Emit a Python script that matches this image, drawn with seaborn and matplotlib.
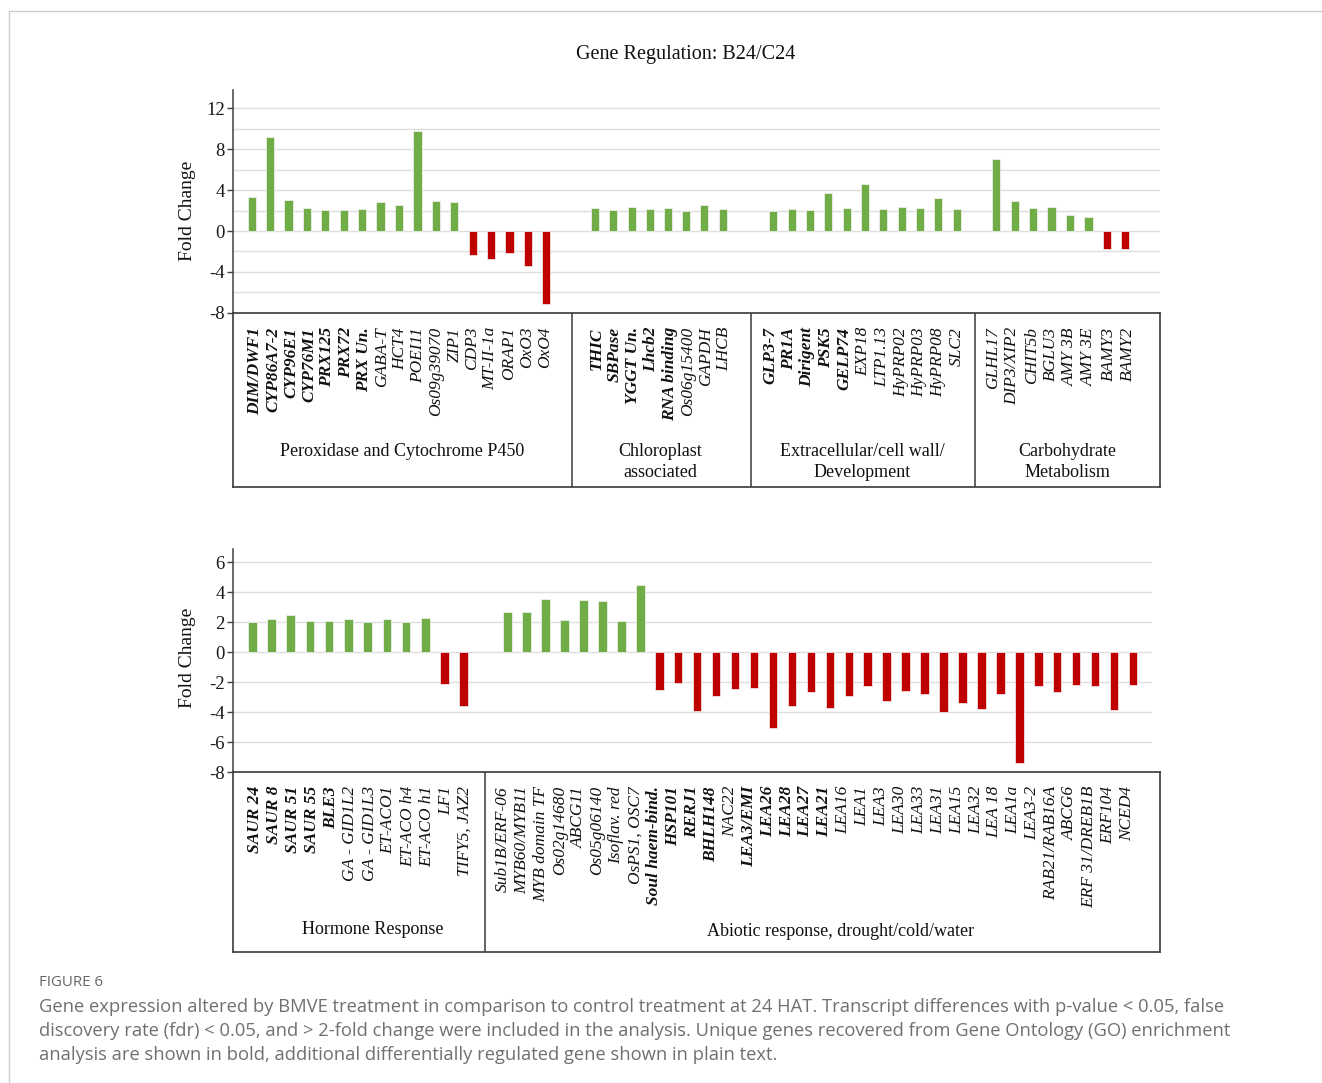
import numpy as np
import pandas as pd
import matplotlib
matplotlib.use("Agg")
import matplotlib.pyplot as plt
from matplotlib.lines import Line2D
import seaborn as sns

# ---------------- data ----------------
perox_genes = ["DIM/DWF1", "CYP86A7-2", "CYP96E1", "CYP76M1", "PRX125", "PRX72", "PRX Un.",
               "GABA-T", "HCT4", "POEI11", "Os09g39070", "ZIP1", "CDP3", "MT-II-1a", "ORAP1",
               "OxO3", "OxO4"]
perox_fc = [3.3, 9.2, 3.0, 2.25, 2.05, 2.1, 2.2, 2.8, 2.5, 9.75, 2.9, 2.8,
            -2.3, -2.75, -2.1, -3.4, -7.15]
perox_bold = [True] * 7 + [False] * 10

chloro_genes = ["THIC", "SBPase", "YGGT Un.", "Lhcb2", "RNA binding", "Os06g15400", "GAPDH", "LHCB"]
chloro_fc = [2.3, 2.1, 2.4, 2.2, 2.3, 1.95, 2.5, 2.2]
chloro_bold = [True] * 5 + [False] * 3

wall_genes = ["GLP3-7", "PR1A", "Dirigent", "PSK5", "GELP74", "EXP18", "LTP1.13",
              "HyPRP02", "HyPRP03", "HyPRP08", "SLC2"]
wall_fc = [1.97, 2.13, 2.1, 3.74, 2.23, 4.62, 2.16, 2.39, 2.3, 3.21, 2.16]
wall_bold = [True] * 5 + [False] * 6

carb_genes = ["GLHL17", "DIP3/XIP2", "CHIT5b", "BGLU3", "AMY 3B", "AMY 3E", "BAMY3", "BAMY2"]
carb_fc = [7.05, 2.92, 2.3, 2.39, 1.54, 1.34, -1.77, -1.77]
carb_bold = [False] * 8

hormone_genes = ["SAUR 24", "SAUR 8", "SAUR 51", "SAUR 55", "BLE3", "GA - GID1L2", "GA - GID1L3",
                 "ET-ACO1", "ET-ACO h4", "ET-ACO h1", "LF1", "TIFY5, JAZ2"]
hormone_fc = [2.05, 2.25, 2.5, 2.1, 2.1, 2.2, 2.05, 2.2, 2.0, 2.3, -2.1, -3.55]
hormone_bold = [True] * 5 + [False] * 7

abiotic_genes = ["Sub1B/ERF-06", "MYB60/MYB11", "MYB domain TF", "Os02g14680", "ABCG11",
                 "Os05g06140", "Isoflav. red", "OsPS1, OSC7", "Soul haem-bind.", "HSP101",
                 "RERJ1", "BHLH148", "NAC22", "LEA3/EMI", "LEA26", "LEA28", "LEA27", "LEA21",
                 "LEA16", "LEA1", "LEA3", "LEA30", "LEA33", "LEA31", "LEA15", "LEA32",
                 "LEA 18", "LEA1a", "LEA3-2", "RAB21/RAB16A", "ABCG6", "ERF 31/DREB1B",
                 "ERF104", "NCED4"]
abiotic_fc = [2.7, 2.7, 3.55, 2.15, 3.5, 3.4, 2.1, 4.5,
              -2.5, -2.05, -3.9, -2.9, -2.45, -2.35, -5.05, -3.6, -2.65, -3.7, -2.9, -2.25,
              -3.25, -2.55, -2.8, -3.95, -3.35, -3.8, -2.8, -7.35, -2.25, -2.65, -2.2,
              -2.25, -3.85, -2.2]
abiotic_bold = ([False] * 8 + [True] * 4 + [False] + [True] * 5 + [False] * 16)

top_ticks = [-8, -4, 0, 4, 8, 12]
bottom_ticks = [-8, -6, -4, -2, 0, 2, 4, 6]

title_text = "Gene Regulation: B24/C24"
caption_head = "FIGURE 6"
caption_lines = [
    "Gene expression altered by BMVE treatment in comparison to control treatment at 24 HAT. Transcript differences with p-value < 0.05, false",
    "discovery rate (fdr) < 0.05, and > 2-fold change were included in the analysis. Unique genes recovered from Gene Ontology (GO) enrichment",
    "analysis are shown in bold, additional differentially regulated gene shown in plain text.",
]

GREEN = "#70AD47"
RED = "#C00000"

# ---------------- styling ----------------
sns.set_theme(style="white")
plt.rcParams["font.family"] = ["Liberation Serif", "DejaVu Serif"]
plt.rcParams["axes.unicode_minus"] = False

W, H = 1322, 1083
fig = plt.figure(figsize=(W / 100, H / 100), dpi=100)


def rect(x0, y0, x1, y1):
    """Pixel box (top-left origin) -> figure fraction rect."""
    return [x0 / W, 1 - y1 / H, (x1 - x0) / W, (y1 - y0) / H]


def bar_group(genes, fc, ax_px, bar_px, ylim, y_px):
    ax = fig.add_axes(rect(ax_px[0], y_px[0], ax_px[1], y_px[1]))
    df = pd.DataFrame({"gene": genes, "fc": fc})
    df["direction"] = np.where(df["fc"] > 0, "up", "down")
    sns.barplot(data=df, x="gene", y="fc", hue="direction",
                palette={"up": GREEN, "down": RED}, saturation=1, dodge=False,
                width=0.45, legend=False, ax=ax, edgecolor="#f4f4f4", linewidth=0.5)
    step = (bar_px[1] - bar_px[0]) / (len(genes) - 1)
    ax.set_xlim((ax_px[0] - bar_px[0]) / step, (ax_px[1] - bar_px[0]) / step)
    ax.set_ylim(*ylim)
    ax.axis("off")
    ax.patch.set_alpha(0)
    return ax


def background(x0, x1, y_px, ylim, ticks):
    ax = fig.add_axes(rect(x0, y_px[0], x1, y_px[1]))
    ax.set_xlim(0, 1)
    ax.set_ylim(*ylim)
    ax.set_xticks([])
    ax.set_yticks(ticks)
    ax.set_yticks(np.arange(ylim[0], ylim[1] + 0.01, 2), minor=True)
    ax.set_yticklabels([str(t) for t in ticks], fontsize=13.5, color="#1a1a1a")
    ax.tick_params(axis="y", which="major", length=4, width=1, color="#404040",
                   left=True, pad=2)
    ax.tick_params(axis="y", which="minor", length=0)
    ax.grid(axis="y", which="both", color="#dedede", linewidth=1.0)
    for s in ("top", "right", "bottom"):
        ax.spines[s].set_visible(False)
    ax.spines["left"].set_color("#404040")
    ax.spines["left"].set_linewidth(1.1)
    ax.patch.set_alpha(0)
    return ax


def label_box(x0, x1, y0, y1, dividers, groups, label_top, fs=12.5):
    ax = fig.add_axes(rect(x0, y0, x1, y1))
    ax.set_xlim(x0, x1)
    ax.set_ylim(y1, y0)
    ax.set_xticks([])
    ax.set_yticks([])
    ax.patch.set_alpha(0)
    for s in ax.spines.values():
        s.set_color("#3a3a3a")
        s.set_linewidth(1.2)
    for d in dividers:
        ax.axvline(d, color="#3a3a3a", linewidth=1.1)
    for genes, bold, (lx0, lx1), name, (nx, ny) in groups:
        xs = np.linspace(lx0, lx1, len(genes))
        for x, g, b in zip(xs, genes, bold):
            ax.text(x, label_top, g, rotation=90, ha="center", va="top",
                    fontsize=fs, style="italic",
                    fontweight="bold" if b else "normal", color="#111111")
        ax.text(nx, ny, name, ha="center", va="center", fontsize=13,
                linespacing=1.3, color="#111111")
    return ax


# ---------------- upper panel ----------------
top_y = (90, 312.8)
top_ylim = (-8, 13.8)
background(233, 1160, top_y, top_ylim, top_ticks)
bar_group(perox_genes, perox_fc, (233, 571), (251.7, 546.3), top_ylim, top_y)
bar_group(chloro_genes, chloro_fc, (571, 748), (595.2, 722.6), top_ylim, top_y)
bar_group(wall_genes, wall_fc, (748, 976.5), (773.3, 956.7), top_ylim, top_y)
bar_group(carb_genes, carb_fc, (976.5, 1160), (996.3, 1125.3), top_ylim, top_y)

label_box(233, 1160, 313, 487, [572, 751, 975], [
    (perox_genes, perox_bold, (255, 545), "Peroxidase and Cytochrome P450", (402, 452)),
    (chloro_genes, chloro_bold, (597, 724), "Chloroplast\nassociated", (660, 462)),
    (wall_genes, wall_bold, (770, 957), "Extracellular/cell wall/\nDevelopment", (862, 462)),
    (carb_genes, carb_bold, (993, 1128), "Carbohydrate\nMetabolism", (1067, 462)),
], label_top=327)

fig.text(686 / W, 1 - 55 / H, title_text, ha="center", va="center", fontsize=14.5,
         color="#111111")
fig.text(188 / W, 1 - 211 / H, "Fold Change", rotation=90, ha="center", va="center",
         fontsize=14, color="#111111")

# ---------------- lower panel ----------------
bot_y = (549.3, 772.3)
bot_ylim = (-8, 6.87)
background(233, 1152, bot_y, bot_ylim, bottom_ticks)
bar_group(hormone_genes, hormone_fc, (233, 485.7), (252.3, 463.7), bot_ylim, bot_y)
bar_group(abiotic_genes, abiotic_fc, (485.7, 1160), (507.7, 1133), bot_ylim, bot_y)

label_box(233, 1160, 772, 951.5, [485], [
    (hormone_genes, hormone_bold, (255, 465), "Hormone Response", (373, 930)),
    (abiotic_genes, abiotic_bold, (503, 1127), "Abiotic response, drought/cold/water", (841, 932)),
], label_top=786)

fig.text(188 / W, 1 - 658 / H, "Fold Change", rotation=90, ha="center", va="center",
         fontsize=14, color="#111111")

# ---------------- frame lines and caption ----------------
fig.add_artist(Line2D([9 / W, 1], [1 - 11 / H, 1 - 11 / H], transform=fig.transFigure,
                      color="#cccccc", linewidth=1.0))
fig.add_artist(Line2D([9 / W, 9 / W], [1 - 11 / H, 0], transform=fig.transFigure,
                      color="#cccccc", linewidth=1.0))

fig.text(39 / W, 1 - 983 / H, caption_head, ha="left", va="center", fontsize=10.8,
         color="#666666", family=["Open Sans", "DejaVu Sans"])
for i, line in enumerate(caption_lines):
    fig.text(39 / W, 1 - (1007 + 24 * i) / H, line, ha="left", va="center",
             fontsize=13.2, color="#707070", family=["Open Sans", "DejaVu Sans"])

fig.savefig("out.png", dpi=100, facecolor="white")
